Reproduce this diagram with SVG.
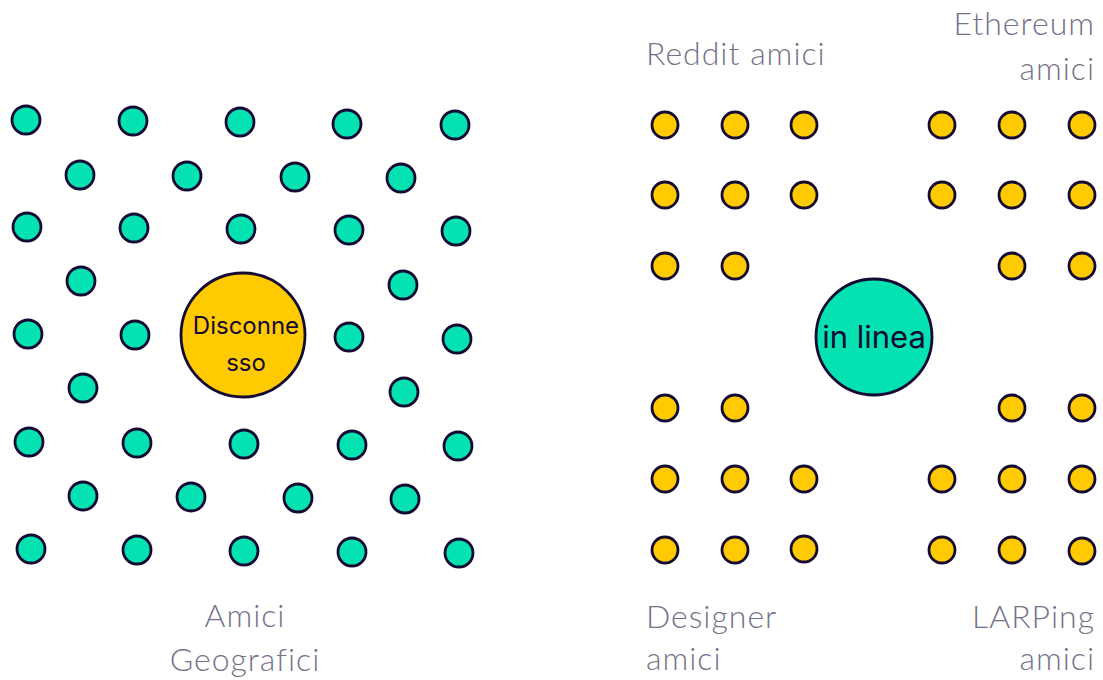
<svg xmlns="http://www.w3.org/2000/svg" width="1103" height="680" viewBox="0 0 1103 680">
<style>
.g{fill:#03e2b0;stroke:#140a33;stroke-width:2.8}
.y{fill:#ffcb00;stroke:#140a33;stroke-width:2.8}
.lbl{font-family:Lato,"Liberation Sans",sans-serif;font-weight:300;font-size:32px;letter-spacing:1px;fill:#75718a}
.in{font-family:Inter,"Liberation Sans",sans-serif;fill:#140a33}
</style>
<rect width="1103" height="680" fill="#fff"/>
<g id="geo-friends">
<circle class="g" cx="26" cy="120" r="14"/><circle class="g" cx="133" cy="121" r="14"/><circle class="g" cx="240" cy="122" r="14"/><circle class="g" cx="347" cy="124" r="14"/><circle class="g" cx="455" cy="125" r="14"/>
<circle class="g" cx="80" cy="175" r="14"/><circle class="g" cx="187" cy="176" r="14"/><circle class="g" cx="295" cy="177" r="14"/><circle class="g" cx="401" cy="178" r="14"/>
<circle class="g" cx="27" cy="227" r="14"/><circle class="g" cx="134" cy="228" r="14"/><circle class="g" cx="241" cy="229" r="14"/><circle class="g" cx="349" cy="230" r="14"/><circle class="g" cx="456" cy="231" r="14"/>
<circle class="g" cx="81" cy="281" r="14"/><circle class="g" cx="403" cy="285" r="14"/>
<circle class="g" cx="28" cy="334" r="14"/><circle class="g" cx="135" cy="335" r="14"/><circle class="g" cx="349" cy="337" r="14"/><circle class="g" cx="457" cy="339" r="14"/>
<circle class="g" cx="83" cy="388" r="14"/><circle class="g" cx="404" cy="392" r="14"/>
<circle class="g" cx="29" cy="442" r="14"/><circle class="g" cx="137" cy="443" r="14"/><circle class="g" cx="244" cy="444" r="14"/><circle class="g" cx="352" cy="445" r="14"/><circle class="g" cx="458" cy="446" r="14"/>
<circle class="g" cx="83" cy="496" r="14"/><circle class="g" cx="191" cy="497" r="14"/><circle class="g" cx="298" cy="498" r="14"/><circle class="g" cx="405" cy="499" r="14"/>
<circle class="g" cx="31" cy="549" r="14"/><circle class="g" cx="137" cy="550" r="14"/><circle class="g" cx="244" cy="551" r="14"/><circle class="g" cx="352" cy="552" r="14"/><circle class="g" cx="459" cy="553" r="14"/>
</g>
<g id="offline">
<circle class="y" cx="243" cy="335" r="62"/>
<text class="in" font-size="24" x="246" y="334" text-anchor="middle">Disconne</text>
<text class="in" font-size="24" x="246" y="371" text-anchor="middle">sso</text>
</g>
<g id="online">
<circle class="g" cx="874" cy="337" r="58"/>
<text class="in" font-size="31" x="874" y="348" text-anchor="middle">in linea</text>
</g>
<g id="reddit-friends">
<circle class="y" cx="665" cy="125" r="13"/><circle class="y" cx="735" cy="125" r="13"/><circle class="y" cx="804" cy="125" r="13"/>
<circle class="y" cx="665" cy="195" r="13"/><circle class="y" cx="735" cy="195" r="13"/><circle class="y" cx="804" cy="195" r="13"/>
<circle class="y" cx="665" cy="266" r="13"/><circle class="y" cx="735" cy="266" r="13"/>
</g>
<g id="ethereum-friends">
<circle class="y" cx="942" cy="125" r="13"/><circle class="y" cx="1012" cy="125" r="13"/><circle class="y" cx="1082" cy="125" r="13"/>
<circle class="y" cx="942" cy="195" r="13"/><circle class="y" cx="1012" cy="195" r="13"/><circle class="y" cx="1082" cy="195" r="13"/>
<circle class="y" cx="1012" cy="266" r="13"/><circle class="y" cx="1082" cy="266" r="13"/>
</g>
<g id="designer-friends">
<circle class="y" cx="665" cy="408" r="13"/><circle class="y" cx="735" cy="408" r="13"/>
<circle class="y" cx="665" cy="479" r="13"/><circle class="y" cx="735" cy="479" r="13"/><circle class="y" cx="804" cy="479" r="13"/>
<circle class="y" cx="665" cy="550" r="13"/><circle class="y" cx="735" cy="550" r="13"/><circle class="y" cx="804" cy="549" r="13"/>
</g>
<g id="larping-friends">
<circle class="y" cx="1012" cy="408" r="13"/><circle class="y" cx="1082" cy="408" r="13"/>
<circle class="y" cx="942" cy="479" r="13"/><circle class="y" cx="1012" cy="479" r="13"/><circle class="y" cx="1082" cy="479" r="13"/>
<circle class="y" cx="942" cy="550" r="13"/><circle class="y" cx="1012" cy="550" r="13"/><circle class="y" cx="1082" cy="551" r="13"/>
</g>
<g id="labels">
<text class="lbl" x="646" y="65">Reddit amici</text>
<text class="lbl" x="1095" y="35" text-anchor="end">Ethereum</text>
<text class="lbl" x="1095" y="80" text-anchor="end">amici</text>
<text class="lbl" x="245" y="627" text-anchor="middle">Amici</text>
<text class="lbl" x="245" y="671" text-anchor="middle">Geografici</text>
<text class="lbl" x="646" y="628">Designer</text>
<text class="lbl" x="646" y="670">amici</text>
<text class="lbl" x="1095" y="628" text-anchor="end">LARPing</text>
<text class="lbl" x="1095" y="670" text-anchor="end">amici</text>
</g>
<g id="connectors"/>
</svg>
